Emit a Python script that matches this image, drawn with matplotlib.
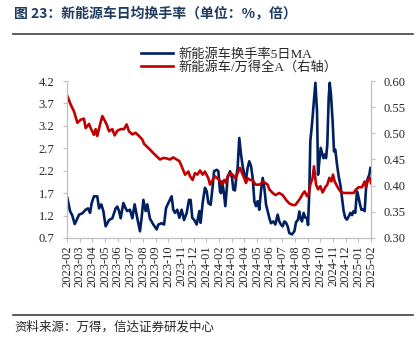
import matplotlib
matplotlib.use("Agg")
import matplotlib.pyplot as plt
from matplotlib.lines import Line2D
from matplotlib.font_manager import FontProperties

plt.rcParams['font.family'] = ['Liberation Serif', 'Noto Sans CJK SC']

# x tick labels (one per month)
month_labels = ['2023-02', '2023-03', '2023-04', '2023-05', '2023-06', '2023-07',
                '2023-08', '2023-09', '2023-10', '2023-11', '2023-12', '2024-01',
                '2024-02', '2024-03', '2024-04', '2024-05', '2024-06', '2024-07',
                '2024-08', '2024-09', '2024-10', '2024-11', '2024-12', '2025-01',
                '2025-02']

# turnover 5-day MA (left axis), x in months since 2023-02
turn_x = [0.03, 0.24, 0.42, 0.61, 0.76, 0.95, 1.21, 1.47, 1.66, 1.82, 1.95, 2.13,
          2.39, 2.53, 2.71, 2.87, 3.05, 3.32, 3.58, 3.84, 3.97, 4.11, 4.24, 4.45,
          4.63, 4.76, 4.97, 5.16, 5.34, 5.55, 5.76, 5.89, 6.03, 6.21, 6.34, 6.55,
          6.82, 7.08, 7.21, 7.47, 7.66, 7.82, 8.00, 8.26, 8.39, 8.53, 8.71, 8.87,
          9.05, 9.24, 9.45, 9.63, 9.76, 9.89, 10.05, 10.24, 10.45, 10.55, 10.71, 10.89,
          11.03, 11.16, 11.34, 11.50, 11.61, 11.82, 11.95, 12.08, 12.16, 12.24, 12.37, 12.50,
          12.68, 12.87, 13.03, 13.13, 13.26, 13.39, 13.47, 13.60, 13.74, 13.87, 14.00, 14.13,
          14.26, 14.39, 14.53, 14.66, 14.79, 14.92, 15.05, 15.18, 15.32, 15.45, 15.58, 15.71,
          15.84, 15.97, 16.10, 16.29, 16.45, 16.63, 16.76, 16.89, 17.03, 17.16, 17.29, 17.42,
          17.55, 17.76, 17.95, 18.08, 18.24, 18.34, 18.42, 18.55, 18.68, 18.82, 18.95, 19.03,
          19.13, 19.21, 19.34, 19.47, 19.61, 19.74, 19.82, 19.92, 20.03, 20.13, 20.24, 20.34,
          20.45, 20.55, 20.66, 20.74, 20.84, 20.97, 21.08, 21.18, 21.32, 21.45, 21.58, 21.71,
          21.84, 21.97, 22.10, 22.24, 22.37, 22.50, 22.63, 22.76, 22.89, 22.97, 23.11, 23.24,
          23.37, 23.50, 23.61, 23.68, 23.76, 23.87, 23.95]
turn_y = [1.59, 1.30, 1.20, 1.01, 1.10, 1.22, 1.25, 1.33, 1.36, 1.26, 1.48, 1.63,
          1.63, 1.36, 1.45, 1.30, 0.96, 1.10, 1.14, 1.36, 1.40, 1.30, 1.14, 1.48,
          1.36, 1.30, 1.33, 1.14, 1.45, 1.14, 0.85, 1.15, 1.55, 1.30, 1.45, 1.13,
          1.00, 0.89, 1.00, 1.03, 1.00, 1.37, 1.48, 1.63, 1.33, 1.26, 1.33, 1.15,
          1.33, 1.10, 1.26, 1.55, 1.55, 1.15, 1.10, 1.00, 1.30, 1.04, 1.48, 1.82,
          1.74, 1.48, 1.44, 1.85, 2.19, 2.22, 2.19, 1.74, 1.70, 1.96, 1.74, 1.41,
          2.04, 2.19, 2.04, 1.78, 1.76, 2.11, 2.26, 2.93, 2.56, 2.30, 2.11, 2.00,
          2.26, 2.41, 2.30, 2.04, 1.52, 1.41, 1.52, 1.33, 1.76, 2.04, 1.82, 1.45,
          1.30, 1.15, 1.03, 1.07, 1.00, 1.22, 1.07, 1.00, 0.96, 1.07, 1.04, 0.96,
          0.81, 0.78, 0.85, 1.05, 1.11, 1.29, 1.15, 1.07, 1.26, 1.15, 1.15, 0.99,
          1.74, 2.86, 3.23, 3.67, 4.16, 3.52, 2.11, 2.41, 2.71, 2.60, 2.48, 2.56,
          2.48, 2.78, 3.82, 4.16, 3.90, 3.30, 2.63, 2.67, 2.33, 2.07, 1.89, 1.59,
          1.30, 1.15, 1.11, 1.18, 1.26, 1.21, 1.30, 1.26, 1.74, 1.67, 1.48, 1.33,
          1.33, 1.30, 1.82, 1.96, 2.04, 2.11, 2.26]

# NEV / Wind All A ratio (right axis)
ratio_x = [0.03, 0.29, 0.55, 0.82, 1.08, 1.34, 1.47, 1.74, 1.87, 2.13, 2.26, 2.39,
           2.61, 2.79, 2.92, 3.13, 3.32, 3.58, 3.76, 3.97, 4.24, 4.50, 4.71, 4.89,
           5.16, 5.42, 5.68, 5.95, 6.08, 6.29, 6.55, 6.82, 7.08, 7.34, 7.61, 7.87,
           8.13, 8.39, 8.66, 8.87, 9.05, 9.32, 9.58, 9.71, 9.92, 10.10, 10.29, 10.50,
           10.71, 10.89, 11.16, 11.29, 11.50, 11.68, 11.87, 12.03, 12.24, 12.42, 12.55, 12.68,
           12.87, 13.08, 13.29, 13.47, 13.66, 13.82, 14.00, 14.13, 14.26, 14.45, 14.66, 14.87,
           15.05, 15.24, 15.45, 15.66, 15.84, 15.97, 16.24, 16.45, 16.76, 17.03, 17.29, 17.55,
           17.82, 18.03, 18.24, 18.42, 18.60, 18.76, 18.95, 19.08, 19.21, 19.39, 19.50, 19.66,
           19.82, 20.00, 20.18, 20.39, 20.55, 20.71, 20.87, 21.00, 21.13, 21.32, 21.58, 21.84,
           22.10, 22.37, 22.63, 22.82, 23.03, 23.29, 23.50, 23.61, 23.76, 23.92, 24.00]
ratio_y = [0.571, 0.555, 0.542, 0.520, 0.526, 0.528, 0.510, 0.518, 0.510, 0.497, 0.508, 0.495,
           0.517, 0.533, 0.527, 0.517, 0.504, 0.508, 0.496, 0.505, 0.508, 0.508, 0.517, 0.504,
           0.498, 0.501, 0.495, 0.488, 0.480, 0.475, 0.469, 0.462, 0.456, 0.450, 0.453, 0.452,
           0.450, 0.454, 0.450, 0.447, 0.437, 0.421, 0.427, 0.418, 0.411, 0.424, 0.421, 0.429,
           0.421, 0.427, 0.414, 0.402, 0.411, 0.418, 0.414, 0.411, 0.402, 0.411, 0.405, 0.418,
           0.424, 0.421, 0.414, 0.424, 0.434, 0.424, 0.414, 0.405, 0.414, 0.411, 0.411, 0.402,
           0.402, 0.402, 0.408, 0.405, 0.402, 0.393, 0.386, 0.382, 0.386, 0.382, 0.373, 0.366,
           0.363, 0.363, 0.370, 0.376, 0.384, 0.389, 0.380, 0.383, 0.402, 0.415, 0.437, 0.402,
           0.393, 0.399, 0.387, 0.397, 0.402, 0.415, 0.408, 0.421, 0.408, 0.399, 0.389, 0.386,
           0.386, 0.386, 0.386, 0.393, 0.397, 0.397, 0.408, 0.397, 0.411, 0.415, 0.405]

left_ticks = [0.7, 1.2, 1.7, 2.2, 2.7, 3.2, 3.7, 4.2]
right_ticks = [0.30, 0.35, 0.40, 0.45, 0.50, 0.55, 0.60]

W, H = 419, 341
fig = plt.figure(figsize=(W / 100, H / 100), dpi=100)
ax = fig.add_axes([67 / W, 1 - 238 / H, (371 - 67) / W, (238 - 81) / H])
ax2 = ax.twinx()

l1, = ax.plot(turn_x, turn_y, color='#002060', lw=1.9)
l2, = ax2.plot(ratio_x, ratio_y, color='#C00000', lw=1.9)

ax.set_xlim(0, 24)
ax.set_ylim(0.7, 4.2)
ax2.set_ylim(0.30, 0.60)
ax.set_xticks(range(len(month_labels)))
ax.set_xticklabels(month_labels, rotation=90)
ax.set_yticks(left_ticks)
ax.set_yticklabels(['%.1f' % v for v in left_ticks])
ax2.set_yticks(right_ticks)
ax2.set_yticklabels(['%.2f' % v for v in right_ticks])

grey = '#BFBFBF'
for a in (ax, ax2):
    a.spines['top'].set_visible(False)
    for s in ('left', 'right', 'bottom'):
        a.spines[s].set_color(grey)
    a.tick_params(direction='out', length=3, color=grey, labelsize=9,
                  labelcolor='#262626', pad=2)
ax.tick_params(axis='y', pad=6)
ax2.tick_params(axis='y', pad=6)

leg_font = FontProperties(family=['Liberation Serif', 'Noto Sans CJK SC'], size=9.5)
fig.legend([l1, l2], ['新能源车换手率5日MA', '新能源车/万得全A（右轴）'],
           loc='upper left', bbox_to_anchor=(141 / W, 1 - 48 / H), frameon=False,
           handlelength=2.4, handletextpad=0.4, labelspacing=0.0,
           borderpad=0, borderaxespad=0, prop=leg_font, labelcolor='#262626')

fig.text(14 / W, 1 - 13 / H, '图 23：新能源车日均换手率（单位：%，倍）',
         fontsize=10, fontweight='bold', color='#1F3A60',
         family=['Noto Sans CJK SC', 'DejaVu Sans'], va='center')
fig.add_artist(Line2D([13 / W, 413 / W], [1 - 34 / H, 1 - 34 / H], color='#404040', lw=1.2))
fig.add_artist(Line2D([13 / W, 413 / W], [1 - 315 / H, 1 - 315 / H], color='#404040', lw=1.2))
fig.text(14 / W, 1 - 327 / H, '资料来源：万得，信达证券研发中心',
         fontsize=9, color='#262626', family=['Noto Sans CJK SC', 'DejaVu Sans'],
         va='center')

fig.savefig('out.png', dpi=100)
